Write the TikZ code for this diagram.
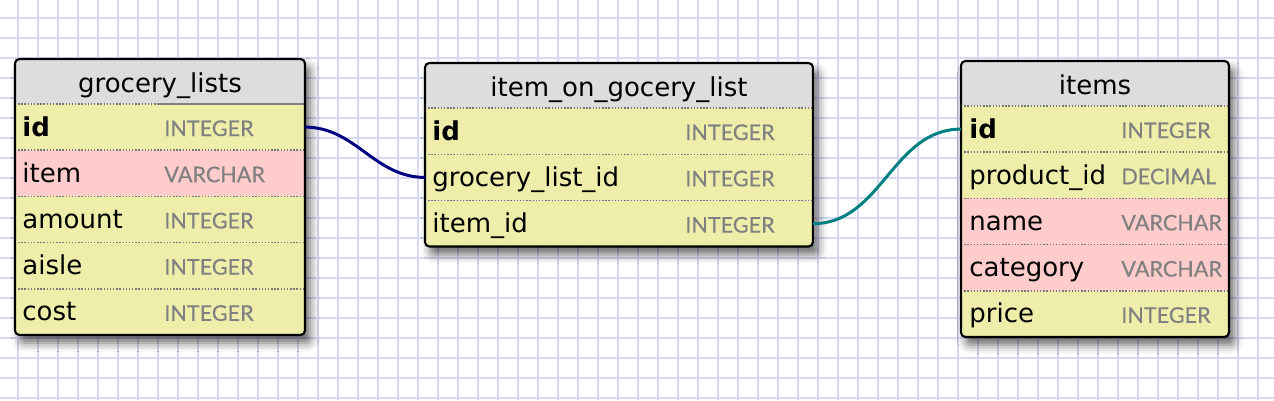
\documentclass[tikz,border=0pt]{standalone}
\usepackage{fontspec}
\setmainfont{DejaVu Sans}
\newfontfamily\typefont[FakeBold=0.4]{Lato}
\usetikzlibrary{%
  calc,
  positioning,
  shadows.blur,
}

\definecolor{gridline}{RGB}{214,214,245}
\definecolor{headgray}{RGB}{221,221,221}
\definecolor{rowyellow}{RGB}{238,238,170}
\definecolor{rowpink}{RGB}{255,204,204}
\definecolor{typegray}{RGB}{128,128,128}
\definecolor{dotgray}{RGB}{120,120,120}
\definecolor{linknavy}{RGB}{0,0,128}
\definecolor{linkteal}{RGB}{0,128,128}

\tikzset{
  tableframe/.style={anchor=north west, inner sep=0pt, outer sep=0pt,
    fill=headgray, rounded corners=2.5pt,
    blur shadow={shadow xshift=3pt, shadow yshift=-4.5pt,
      shadow blur radius=5pt, shadow opacity=60}},
  tableborder/.style={draw=black, line width=1.2pt, rounded corners=2.5pt},
  fieldrow/.style={anchor=north west, inner sep=0pt, outer sep=0pt,
    minimum height=0.924cm},
  fieldname/.style={anchor=base west, inner sep=0pt,
    font=\fontsize{14.8}{17}\selectfont},
  tabletitle/.style={fieldname, anchor=base},
  fieldtype/.style={anchor=base west, inner sep=0pt, text=typegray,
    font=\typefont\fontsize{12.3}{15}\selectfont},
  divider/.style={dotgray, line width=0.9pt, dash pattern=on 0.8pt off 1pt},
  relation/.style={line width=1.7pt, out=0, in=180},
}

\begin{document}
\begin{tikzpicture}[x=0.02cm, y=-0.02cm]
        % 1 unit = 1 pixel, y grows downwards
        \useasboundingbox (0,0) rectangle (1274,400);

        % background grid
        \draw[gridline, line width=1.2pt]
          foreach \gx in {18,38,...,1274} {(\gx,0) -- (\gx,400)}
          foreach \gy in {18,38,...,400} {(0,\gy) -- (1274,\gy)};

        % grocery_lists
        \node[tableframe, minimum width=5.8cm, minimum height=5.52cm]
          (gl) at (15,59) {};
        \node[tabletitle] (gl-title) at ($(gl.north)+(0,33)$)
          {grocery\_lists};
        \begin{scope}
          \clip[rounded corners=2.5pt] (gl.north west) rectangle (gl.south east);
          \foreach \fname/\ftype/\fcol [count=\i] in
            {{\textbf{id}}/INTEGER/rowyellow, item/VARCHAR/rowpink,
             amount/INTEGER/rowyellow, aisle/INTEGER/rowyellow,
             cost/INTEGER/rowyellow} {
            \node[fieldrow, fill=\fcol, minimum width=5.8cm]
              (gl-\i) at ($(gl.north west)+(0,{45+(\i-1)*46.2})$) {};
            \node[fieldname] (gl-\i-name) at ($(gl-\i.north west)+(7,32)$) {\fname};
            \node[fieldtype] (gl-\i-type) at ($(gl-\i.north west)+(149,32)$) {\ftype};
            \draw[divider] (gl-\i.north west) -- (gl-\i.north east);
          }
          \draw[gray, line width=1pt]
            ($(gl-1.north west)+(142,0)$) -- (gl-1.north east);
        \end{scope}
        \draw[tableborder] (gl.north west) rectangle (gl.south east);

        % item_on_gocery_list
        \node[tableframe, minimum width=7.76cm, minimum height=3.67cm]
          (ig) at (425,63) {};
        \node[tabletitle] (ig-title) at ($(ig.north)+(0,33)$)
          {item\_on\_gocery\_list};
        \begin{scope}
          \clip[rounded corners=2.5pt] (ig.north west) rectangle (ig.south east);
          \foreach \fname/\ftype/\fcol [count=\i] in
            {{\textbf{id}}/INTEGER/rowyellow,
             grocery\_list\_id/INTEGER/rowyellow,
             item\_id/INTEGER/rowyellow} {
            \node[fieldrow, fill=\fcol, minimum width=7.76cm]
              (ig-\i) at ($(ig.north west)+(0,{45+(\i-1)*46.3})$) {};
            \node[fieldname] (ig-\i-name) at ($(ig-\i.north west)+(7,32)$) {\fname};
            \node[fieldtype] (ig-\i-type) at ($(ig-\i.north west)+(260,32)$) {\ftype};
            \draw[divider] (ig-\i.north west) -- (ig-\i.north east);
          }
        \end{scope}
        \draw[tableborder] (ig.north west) rectangle (ig.south east);

        % items
        \node[tableframe, minimum width=5.36cm, minimum height=5.52cm]
          (it) at (961,61) {};
        \node[tabletitle] (it-title) at ($(it.north)+(0,33)$) {items};
        \begin{scope}
          \clip[rounded corners=2.5pt] (it.north west) rectangle (it.south east);
          \foreach \fname/\ftype/\fcol [count=\i] in
            {{\textbf{id}}/INTEGER/rowyellow,
             product\_id/DECIMAL/rowyellow, name/VARCHAR/rowpink,
             category/VARCHAR/rowpink, price/INTEGER/rowyellow} {
            \node[fieldrow, fill=\fcol, minimum width=5.36cm]
              (it-\i) at ($(it.north west)+(0,{45+(\i-1)*46.2})$) {};
            \node[fieldname] (it-\i-name) at ($(it-\i.north west)+(8,32)$) {\fname};
            \node[fieldtype] (it-\i-type) at ($(it-\i.north west)+(160,32)$) {\ftype};
            \draw[divider] (it-\i.north west) -- (it-\i.north east);
          }
        \end{scope}
        \draw[tableborder] (it.north west) rectangle (it.south east);

        % relations
        \draw[relation, linknavy] (gl-1.east) to (ig-2.west);
        \draw[relation, linkteal] (ig-3.east) to (it-1.west);
      \end{tikzpicture}
\end{document}
